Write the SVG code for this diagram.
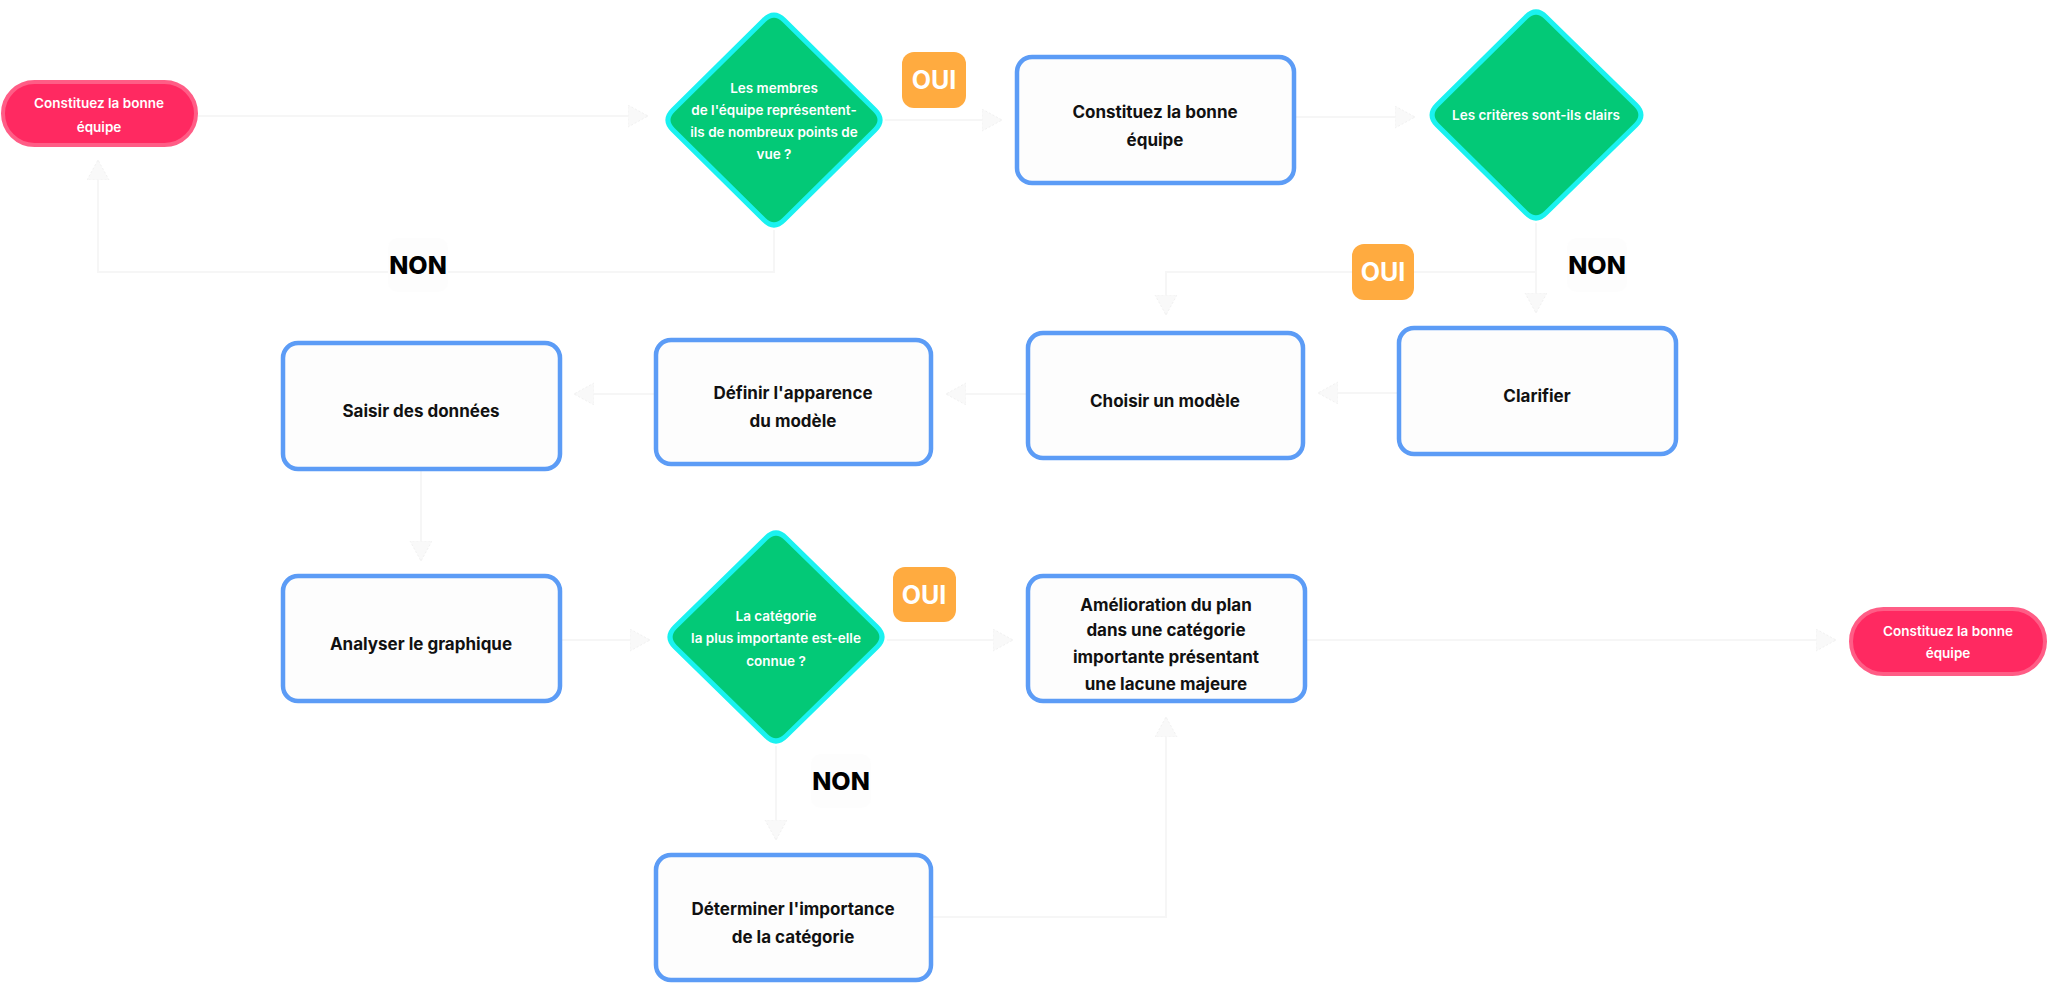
<svg xmlns="http://www.w3.org/2000/svg" width="2048" height="983" viewBox="0 0 2048 983">
<defs>
<style>
.bg{fill:#ffffff}
.box{fill:#fdfdfd;stroke:#5c9cf6;stroke-width:4.5}
.dia{fill:#03c977;stroke:#1af2f0;stroke-width:5;stroke-linejoin:round}
.pill{fill:#ff2961;stroke:#ff5d86;stroke-width:4}
.oui{fill:#ffab40}
.nonbg{fill:#fdfdfd}
.t{font-family:Inter,"Open Sans","Liberation Sans",sans-serif;text-anchor:middle}
.bt{font-size:17px;font-weight:700;fill:#111111}
.dt{font-size:13.5px;font-weight:600;fill:#ffffff}
.pt{font-size:13.5px;font-weight:600;fill:#ffffff}
.ot{font-size:25px;font-weight:700;fill:#ffffff}
.nt{font-size:25px;font-weight:800;fill:#000000}
.c{fill:none;stroke:#f6f6f6;stroke-width:2}
</style>
<marker id="ah" markerUnits="userSpaceOnUse" markerWidth="24" markerHeight="24" refX="20" refY="11" orient="auto">
<path d="M0,0 L20,11 L0,22 Z" fill="#f9f9f9" stroke="#f1f1f1" stroke-width="1" stroke-dasharray="2 2"/>
</marker>
</defs>
<rect class="bg" x="0" y="0" width="2048" height="983"/>

<g id="connectors">
<path class="c" d="M196,116 L648,116" marker-end="url(#ah)"/>
<path class="c" d="M774,230 L774,272 L98,272 L98,160" marker-end="url(#ah)"/>
<path class="c" d="M885,120 L1002,120" marker-end="url(#ah)"/>
<path class="c" d="M1294,117 L1415,117" marker-end="url(#ah)"/>
<path class="c" d="M1536,223 L1536,313" marker-end="url(#ah)"/>
<path class="c" d="M1536,272 L1166,272 L1166,315" marker-end="url(#ah)"/>
<path class="c" d="M1399,393 L1318,393" marker-end="url(#ah)"/>
<path class="c" d="M1028,394 L946,394" marker-end="url(#ah)"/>
<path class="c" d="M656,394 L574,394" marker-end="url(#ah)"/>
<path class="c" d="M421,469 L421,561" marker-end="url(#ah)"/>
<path class="c" d="M560,640 L650,640" marker-end="url(#ah)"/>
<path class="c" d="M887,640 L1013,640" marker-end="url(#ah)"/>
<path class="c" d="M776,746 L776,840" marker-end="url(#ah)"/>
<path class="c" d="M931,917 L1166,917 L1166,717" marker-end="url(#ah)"/>
<path class="c" d="M1305,640 L1836,640" marker-end="url(#ah)"/>
</g>

<g id="start">
<rect class="pill" x="3" y="82" width="193" height="63" rx="31.5"/>
<text class="t pt" x="99" y="108">Constituez la bonne</text>
<text class="t pt" x="99" y="132">équipe</text>
</g>

<g id="q1">
<path class="dia" d="M764,20 Q774,10 784,20 L875,110 Q885,120 875,130 L784,220 Q774,230 764,220 L673,130 Q663,120 673,110 Z"/>
<text class="t dt" x="774" y="93">Les membres</text>
<text class="t dt" x="774" y="115">de l'équipe représentent-</text>
<text class="t dt" x="774" y="137">ils de nombreux points de</text>
<text class="t dt" x="774" y="159">vue ?</text>
</g>

<g id="oui1">
<rect class="oui" x="902" y="52" width="64" height="56" rx="12"/>
<text class="t ot" x="934" y="89">OUI</text>
</g>

<g id="non1">
<rect class="nonbg" x="388" y="238" width="60" height="54" rx="10"/>
<text class="t nt" x="418" y="274">NON</text>
</g>

<g id="team">
<rect class="box" x="1017" y="57" width="277" height="126" rx="15"/>
<text class="t bt" x="1155" y="118">Constituez la bonne</text>
<text class="t bt" x="1155" y="146">équipe</text>
</g>

<g id="q2">
<path class="dia" d="M1526,17 Q1536,7 1546,17 L1636,105 Q1646,115 1636,125 L1546,213 Q1536,223 1526,213 L1437,125 Q1427,115 1437,105 Z"/>
<text class="t dt" x="1536" y="120">Les critères sont-ils clairs</text>
</g>

<g id="oui2">
<rect class="oui" x="1352" y="244" width="62" height="56" rx="12"/>
<text class="t ot" x="1383" y="281">OUI</text>
</g>

<g id="non2">
<rect class="nonbg" x="1567" y="238" width="60" height="54" rx="10"/>
<text class="t nt" x="1597" y="274">NON</text>
</g>

<g id="saisir">
<rect class="box" x="283" y="343" width="277" height="126" rx="15"/>
<text class="t bt" x="421" y="417">Saisir des données</text>
</g>

<g id="definir">
<rect class="box" x="656" y="340" width="275" height="124" rx="15"/>
<text class="t bt" x="793" y="399">Définir l'apparence</text>
<text class="t bt" x="793" y="427">du modèle</text>
</g>

<g id="choisir">
<rect class="box" x="1028" y="333" width="275" height="125" rx="15"/>
<text class="t bt" x="1165" y="407">Choisir un modèle</text>
</g>

<g id="clarifier">
<rect class="box" x="1399" y="328" width="277" height="126" rx="15"/>
<text class="t bt" x="1537" y="402">Clarifier</text>
</g>

<g id="analyser">
<rect class="box" x="283" y="576" width="277" height="125" rx="15"/>
<text class="t bt" x="421" y="650">Analyser le graphique</text>
</g>

<g id="q3">
<path class="dia" d="M766,538 Q776,528 786,538 L877,627 Q887,637 877,647 L786,736 Q776,746 766,736 L675,647 Q665,637 675,627 Z"/>
<text class="t dt" x="776" y="621">La catégorie</text>
<text class="t dt" x="776" y="643">la plus importante est-elle</text>
<text class="t dt" x="776" y="666">connue ?</text>
</g>

<g id="oui3">
<rect class="oui" x="893" y="567" width="63" height="55" rx="12"/>
<text class="t ot" x="924" y="604">OUI</text>
</g>

<g id="non3">
<rect class="nonbg" x="811" y="754" width="60" height="54" rx="10"/>
<text class="t nt" x="841" y="790">NON</text>
</g>

<g id="amelioration">
<rect class="box" x="1028" y="576" width="277" height="125" rx="15"/>
<text class="t bt" x="1166" y="611">Amélioration du plan</text>
<text class="t bt" x="1166" y="636">dans une catégorie</text>
<text class="t bt" x="1166" y="663">importante présentant</text>
<text class="t bt" x="1166" y="690">une lacune majeure</text>
</g>

<g id="determiner">
<rect class="box" x="656" y="855" width="275" height="125" rx="15"/>
<text class="t bt" x="793" y="915">Déterminer l'importance</text>
<text class="t bt" x="793" y="943">de la catégorie</text>
</g>

<g id="end">
<rect class="pill" x="1851" y="609" width="194" height="65" rx="32.5"/>
<text class="t pt" x="1948" y="636">Constituez la bonne</text>
<text class="t pt" x="1948" y="658">équipe</text>
</g>
</svg>
